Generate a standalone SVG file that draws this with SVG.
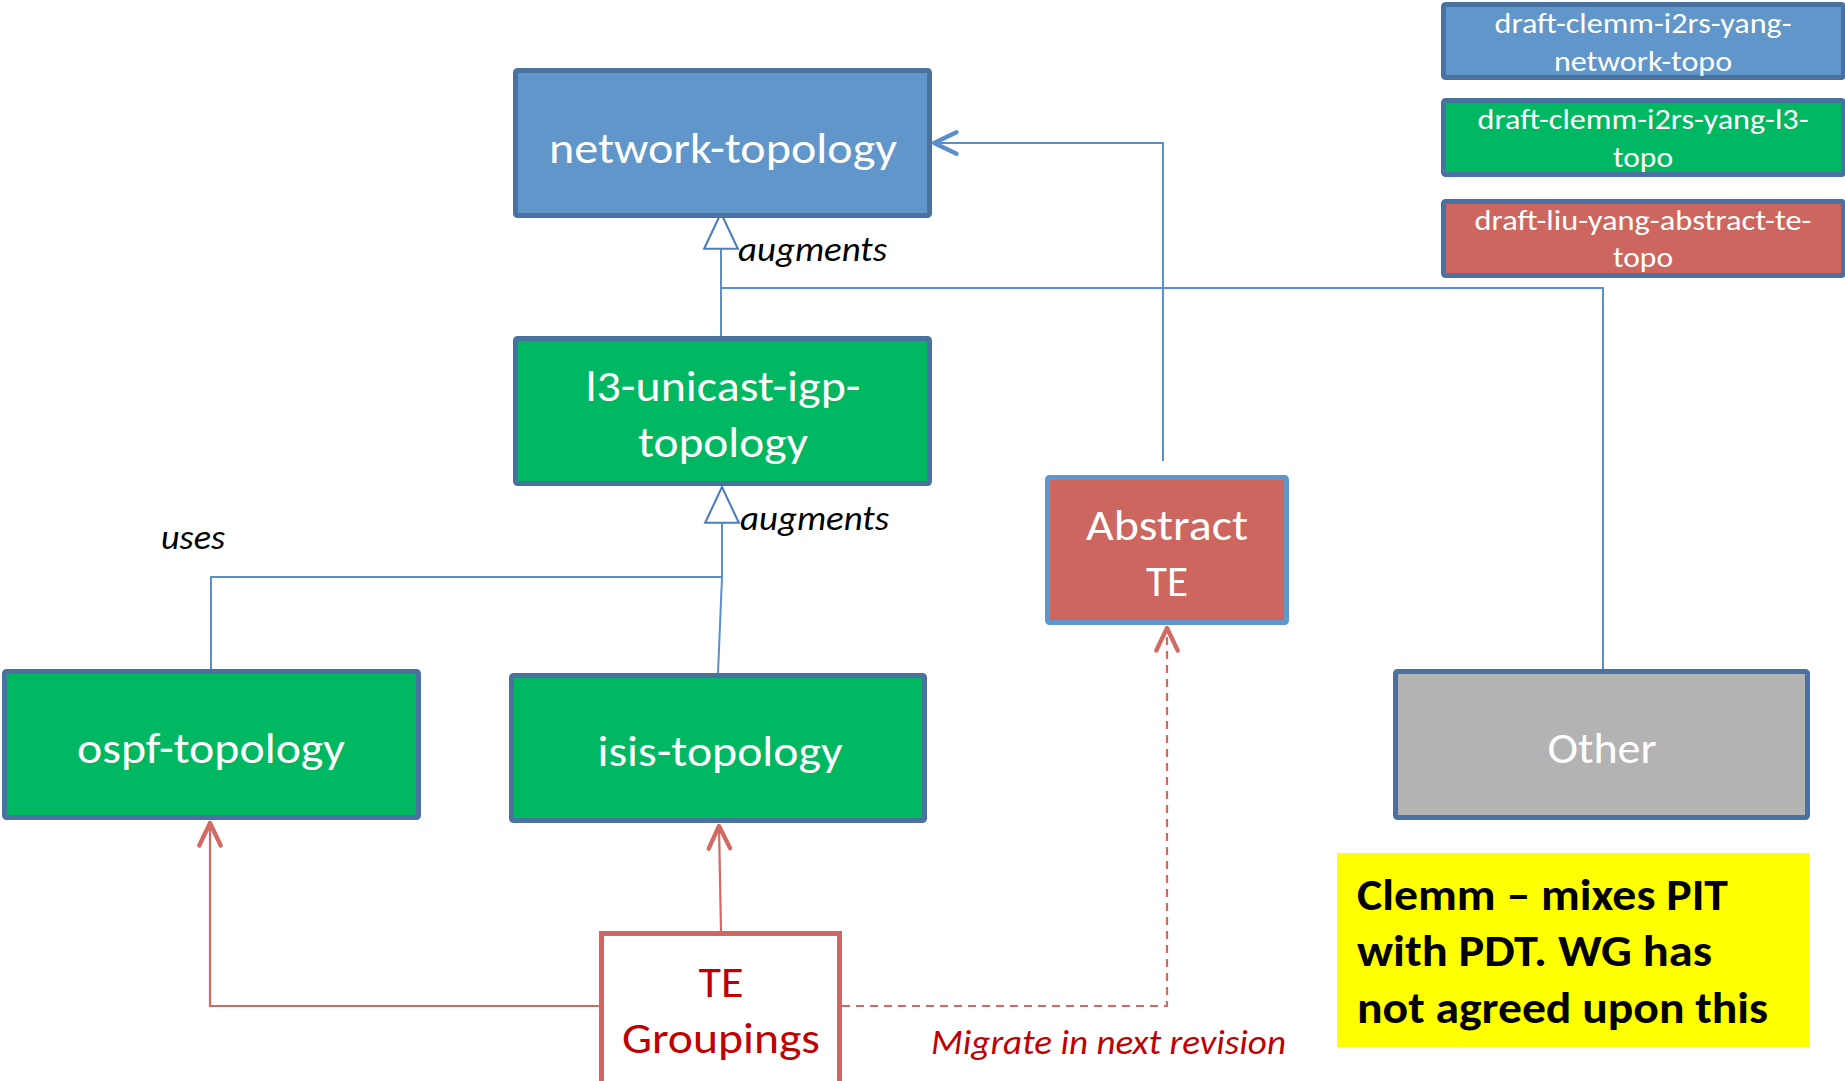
<svg xmlns="http://www.w3.org/2000/svg" width="1845" height="1081" viewBox="0 0 1845 1081">
<style>
  .lbl { font-family: Carlito, Lato, "Open Sans", sans-serif; fill: #ffffff; text-anchor: middle; }
  .big { font-size: 43px; }
  .leg { font-size: 29.5px; }
  .blue { fill: #6096c9; stroke: #4a72a0; stroke-width: 5; }
  .green { fill: #00b861; stroke: #4a72a0; stroke-width: 5; }
  .redn { fill: #cd665f; stroke: #5f96cc; stroke-width: 5; }
  .gray { fill: #b3b3b3; stroke: #4a72a0; stroke-width: 5; }
  .conn-b { fill: none; stroke: #5b8fcc; stroke-width: 2; }
  .conn-r { fill: none; stroke: #d26a63; stroke-width: 2.2; }
  .ital { font-family: Carlito, Lato, "Open Sans", sans-serif; font-style: italic; font-size: 35.5px; }
</style>
<defs>
  <marker id="tri" markerUnits="userSpaceOnUse" markerWidth="40" markerHeight="40" viewBox="-36 -18 38 36" refX="0" refY="0" orient="auto">
    <path d="M0,0 L-34,-16 L-34,16 Z" fill="#ffffff" stroke="#4f7fb8" stroke-width="2"/>
  </marker>
  <marker id="arrB" markerUnits="userSpaceOnUse" markerWidth="30" markerHeight="30" viewBox="-25 -14 28 28" refX="0" refY="0" orient="auto">
    <path d="M-21,-10 L0,0 L-21,10" fill="none" stroke="#5b8fcc" stroke-width="4" stroke-linecap="round" stroke-linejoin="round"/>
  </marker>
  <marker id="arrR" markerUnits="userSpaceOnUse" markerWidth="30" markerHeight="30" viewBox="-25 -14 28 28" refX="0" refY="0" orient="auto">
    <path d="M-21,-10 L0,0 L-21,10" fill="none" stroke="#d26a63" stroke-width="4" stroke-linecap="round" stroke-linejoin="round"/>
  </marker>
</defs>

<rect width="1845" height="1081" fill="#ffffff"/>

<g id="connectors">
  <path class="conn-b" d="M721,336 L721,213" marker-end="url(#tri)"/>
  <path class="conn-b" d="M1603,669 L1603,288 L721,288"/>
  <path class="conn-b" d="M1163,461 L1163,143 L934,143" marker-end="url(#arrB)"/>
  <path class="conn-b" d="M211,669 L211,577 L722,577 L722,487" marker-end="url(#tri)"/>
  <path class="conn-b" d="M718,673 L722,577"/>
  <path class="conn-r" d="M600,1006 L210,1006 L210,823" marker-end="url(#arrR)"/>
  <path class="conn-r" d="M721,931 L719,826" marker-end="url(#arrR)"/>
  <path class="conn-r" d="M842,1006 L1167,1006 L1167,628" stroke-dasharray="8,6" marker-end="url(#arrR)"/>
</g>

<g id="legend-network-topo">
  <rect class="blue" x="1443.5" y="4.5" width="400" height="73" rx="2"/>
  <text class="lbl leg" x="1643" y="33" textLength="297" lengthAdjust="spacingAndGlyphs">draft-clemm-i2rs-yang-</text>
  <text class="lbl leg" x="1643" y="71" textLength="178" lengthAdjust="spacingAndGlyphs">network-topo</text>
</g>
<g id="legend-l3-topo">
  <rect class="green" x="1443.5" y="100.5" width="400" height="74" rx="2"/>
  <text class="lbl leg" x="1643" y="129" textLength="331" lengthAdjust="spacingAndGlyphs">draft-clemm-i2rs-yang-l3-</text>
  <text class="lbl leg" x="1643" y="167" textLength="60" lengthAdjust="spacingAndGlyphs">topo</text>
</g>
<g id="legend-abstract-te">
  <rect x="1443.5" y="201.5" width="400" height="74" rx="2" fill="#cd665f" stroke="#4a72a0" stroke-width="5"/>
  <text class="lbl leg" x="1643" y="230" textLength="337" lengthAdjust="spacingAndGlyphs">draft-liu-yang-abstract-te-</text>
  <text class="lbl leg" x="1643" y="267" textLength="60" lengthAdjust="spacingAndGlyphs">topo</text>
</g>

<g id="network-topology">
  <rect class="blue" x="515.5" y="70.5" width="414" height="145" rx="2"/>
  <text class="lbl big" x="723" y="163" textLength="348" lengthAdjust="spacingAndGlyphs">network-topology</text>
</g>
<g id="l3-unicast-igp-topology">
  <rect class="green" x="515.5" y="338.5" width="414" height="145" rx="2"/>
  <text class="lbl big" x="723" y="401" textLength="275" lengthAdjust="spacingAndGlyphs">l3-unicast-igp-</text>
  <text class="lbl big" x="723" y="457" textLength="170" lengthAdjust="spacingAndGlyphs">topology</text>
</g>
<g id="abstract-te">
  <rect class="redn" x="1047.5" y="477.5" width="239" height="145" rx="2"/>
  <text class="lbl big" x="1167" y="540" textLength="162" lengthAdjust="spacingAndGlyphs">Abstract</text>
  <text class="lbl big" x="1167" y="596" textLength="42" lengthAdjust="spacingAndGlyphs">TE</text>
</g>
<g id="ospf-topology">
  <rect class="green" x="4.5" y="671.5" width="414" height="146" rx="2"/>
  <text class="lbl big" x="211" y="763" textLength="268" lengthAdjust="spacingAndGlyphs">ospf-topology</text>
</g>
<g id="isis-topology">
  <rect class="green" x="511.5" y="675.5" width="413" height="145" rx="2"/>
  <text class="lbl big" x="720" y="766" textLength="245" lengthAdjust="spacingAndGlyphs">isis-topology</text>
</g>
<g id="other">
  <rect class="gray" x="1395.5" y="671.5" width="412" height="146" rx="2"/>
  <text class="lbl big" x="1602" y="763" textLength="109" lengthAdjust="spacingAndGlyphs">Other</text>
</g>
<g id="te-groupings">
  <rect x="601.5" y="933.5" width="238" height="152" fill="#ffffff" stroke="#d0665f" stroke-width="5"/>
  <text class="lbl big" x="721" y="997" style="fill:#c00000" textLength="45" lengthAdjust="spacingAndGlyphs">TE</text>
  <text class="lbl big" x="721" y="1053" style="fill:#c00000" textLength="198" lengthAdjust="spacingAndGlyphs">Groupings</text>
</g>

<g id="labels">
  <text class="ital" x="738" y="261" fill="#000000" textLength="149" lengthAdjust="spacingAndGlyphs">augments</text>
  <text class="ital" x="740" y="530" fill="#000000" textLength="149" lengthAdjust="spacingAndGlyphs">augments</text>
  <text class="ital" x="161" y="549" fill="#000000" textLength="64" lengthAdjust="spacingAndGlyphs">uses</text>
  <text class="ital" x="931" y="1054" fill="#c00000" textLength="355" lengthAdjust="spacingAndGlyphs">Migrate in next revision</text>
</g>

<g id="note">
  <rect x="1337" y="853" width="472" height="194" fill="#ffff00"/>
  <g font-family="Carlito, Lato, 'Open Sans', sans-serif" font-weight="bold" font-size="44.5" fill="#000000">
    <text x="1357" y="910" textLength="371" lengthAdjust="spacingAndGlyphs">Clemm – mixes PIT</text>
    <text x="1357" y="966" textLength="355" lengthAdjust="spacingAndGlyphs">with PDT. WG has</text>
    <text x="1357" y="1023" textLength="411" lengthAdjust="spacingAndGlyphs">not agreed upon this</text>
  </g>
</g>
</svg>
